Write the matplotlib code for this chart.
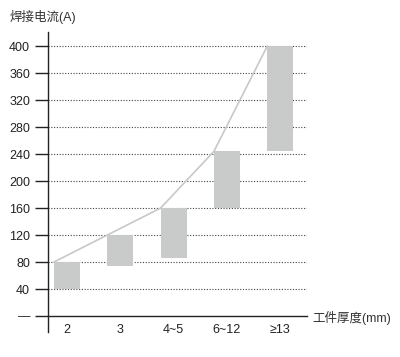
import matplotlib
matplotlib.use("Agg")
import matplotlib.pyplot as plt
import numpy as np

plt.rcParams['font.family'] = ['Liberation Sans', 'Noto Sans CJK SC', 'DejaVu Sans']

# welding current ranges per plate thickness
categories = ['2', '3', '4~5', '6~12', '≥13']
current_low = [40, 74, 86, 160, 245]
current_high = [80, 120, 160, 244, 400]
y_ticks = [0, 40, 80, 120, 160, 200, 240, 280, 320, 360, 400]
y_tick_labels = ['—', '40', '80', '120', '160', '200', '240', '280', '320', '360', '400']

bar_w = 0.49
text_c = '#222222'

fig = plt.figure(figsize=(4.0, 3.57), dpi=100)
ax = fig.add_axes([0.12, 0.07, 0.6475, 0.84])

x = np.arange(len(categories))
heights = np.array(current_high) - np.array(current_low)
ax.bar(x, heights, bottom=current_low, width=bar_w, color='#c9cbca', zorder=3)

# envelope line through the top-left corner of each bar
ax.plot(x - bar_w / 2, current_high, color='#c8c8c8', lw=1.2, zorder=4)

for v in y_ticks[1:]:
    ax.axhline(v, color='#444444', lw=0.8, ls=(0, (1, 1.5)), zorder=1)

ax.set_xlim(-0.356, 4.5)
ax.set_ylim(-23.7, 420.7)

ax.spines['top'].set_visible(False)
ax.spines['right'].set_visible(False)
ax.spines['left'].set_color('#222222')
ax.spines['left'].set_linewidth(1.0)
ax.spines['bottom'].set_position(('data', 0))
ax.spines['bottom'].set_color('#222222')
ax.spines['bottom'].set_linewidth(1.0)

ax.set_yticks(y_ticks)
ax.set_yticklabels(y_tick_labels)
ax.tick_params(axis='y', length=9.4, width=1.0, color='#222222', pad=3.5,
               labelsize=9, labelcolor=text_c)
ax.set_xticks(x)
ax.set_xticklabels(categories)
ax.tick_params(axis='x', length=0, pad=6, labelsize=9, labelcolor=text_c)

fig.text(0.025, 0.952, '焊接电流(A)', fontsize=9, color='#333333', va='center', ha='left')
fig.text(0.78, 0.108, '工件厚度(mm)', fontsize=9, color='#333333', va='center', ha='left')

fig.savefig('out.png', dpi=100)
